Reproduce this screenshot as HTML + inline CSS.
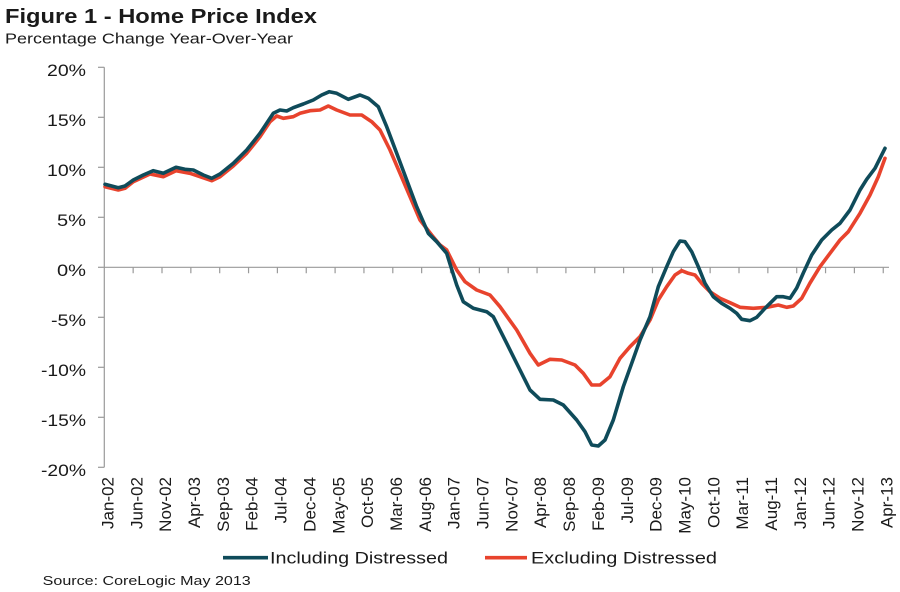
<!DOCTYPE html>
<html>
<head>
<meta charset="utf-8">
<style>
html,body{margin:0;padding:0;background:#fff;}
svg{display:block;}
text{font-family:"Liberation Sans",Arial,sans-serif;fill:#1a1a1a;}
</style>
</head>
<body>
<svg width="900" height="592" viewBox="0 0 900 592" xmlns="http://www.w3.org/2000/svg">
<rect width="900" height="592" fill="#fff"/>
<text x="5" y="23" font-size="20" font-weight="bold" fill="#000" textLength="312" lengthAdjust="spacingAndGlyphs">Figure 1 - Home Price Index</text>
<text x="5" y="43.5" font-size="15" textLength="288" lengthAdjust="spacingAndGlyphs">Percentage Change Year-Over-Year</text>

<g stroke="#9a9a9a" stroke-width="1.2" fill="none">
<line x1="104.3" y1="67.3" x2="104.3" y2="467.3"/>
<line x1="98" y1="67.3" x2="104.3" y2="67.3"/>
<line x1="98" y1="117.3" x2="104.3" y2="117.3"/>
<line x1="98" y1="167.3" x2="104.3" y2="167.3"/>
<line x1="98" y1="217.3" x2="104.3" y2="217.3"/>
<line x1="98" y1="267.3" x2="104.3" y2="267.3"/>
<line x1="98" y1="317.3" x2="104.3" y2="317.3"/>
<line x1="98" y1="367.3" x2="104.3" y2="367.3"/>
<line x1="98" y1="417.3" x2="104.3" y2="417.3"/>
<line x1="98" y1="467.3" x2="104.3" y2="467.3"/>
<line x1="104.3" y1="267.3" x2="889" y2="267.3"/>
<path d="M133.15 267.3v6M162 267.3v6M190.85 267.3v6M219.7 267.3v6M248.55 267.3v6M277.4 267.3v6M306.25 267.3v6M335.1 267.3v6M363.95 267.3v6M392.8 267.3v6M421.65 267.3v6M450.5 267.3v6M479.35 267.3v6M508.2 267.3v6M537.05 267.3v6M565.9 267.3v6M594.75 267.3v6M623.6 267.3v6M652.45 267.3v6M681.3 267.3v6M710.15 267.3v6M739 267.3v6M767.85 267.3v6M796.7 267.3v6M825.55 267.3v6M854.4 267.3v6M883.25 267.3v6"/>
</g>

<g font-size="17" text-anchor="end">
<text x="86" y="76" textLength="39" lengthAdjust="spacingAndGlyphs">20%</text>
<text x="86" y="126" textLength="39" lengthAdjust="spacingAndGlyphs">15%</text>
<text x="86" y="176" textLength="39" lengthAdjust="spacingAndGlyphs">10%</text>
<text x="86" y="226" textLength="29" lengthAdjust="spacingAndGlyphs">5%</text>
<text x="86" y="276" textLength="29" lengthAdjust="spacingAndGlyphs">0%</text>
<text x="86" y="326" textLength="35" lengthAdjust="spacingAndGlyphs">-5%</text>
<text x="86" y="376" textLength="45" lengthAdjust="spacingAndGlyphs">-10%</text>
<text x="86" y="426" textLength="45" lengthAdjust="spacingAndGlyphs">-15%</text>
<text x="86" y="476" textLength="45" lengthAdjust="spacingAndGlyphs">-20%</text>
</g>

<g font-size="17" text-anchor="end">
<text transform="translate(113.5,477) rotate(-90)">Jan-02</text>
<text transform="translate(142.3,477) rotate(-90)">Jun-02</text>
<text transform="translate(171.2,477) rotate(-90)">Nov-02</text>
<text transform="translate(200,477) rotate(-90)">Apr-03</text>
<text transform="translate(228.9,477) rotate(-90)">Sep-03</text>
<text transform="translate(257.7,477) rotate(-90)">Feb-04</text>
<text transform="translate(286.6,477) rotate(-90)">Jul-04</text>
<text transform="translate(315.4,477) rotate(-90)">Dec-04</text>
<text transform="translate(344.3,477) rotate(-90)">May-05</text>
<text transform="translate(373.1,477) rotate(-90)">Oct-05</text>
<text transform="translate(402,477) rotate(-90)">Mar-06</text>
<text transform="translate(430.8,477) rotate(-90)">Aug-06</text>
<text transform="translate(459.7,477) rotate(-90)">Jan-07</text>
<text transform="translate(488.5,477) rotate(-90)">Jun-07</text>
<text transform="translate(517.4,477) rotate(-90)">Nov-07</text>
<text transform="translate(546.2,477) rotate(-90)">Apr-08</text>
<text transform="translate(575.1,477) rotate(-90)">Sep-08</text>
<text transform="translate(603.9,477) rotate(-90)">Feb-09</text>
<text transform="translate(632.8,477) rotate(-90)">Jul-09</text>
<text transform="translate(661.6,477) rotate(-90)">Dec-09</text>
<text transform="translate(690.5,477) rotate(-90)">May-10</text>
<text transform="translate(719.3,477) rotate(-90)">Oct-10</text>
<text transform="translate(748.2,477) rotate(-90)">Mar-11</text>
<text transform="translate(777,477) rotate(-90)">Aug-11</text>
<text transform="translate(805.9,477) rotate(-90)">Jan-12</text>
<text transform="translate(834.7,477) rotate(-90)">Jun-12</text>
<text transform="translate(863.6,477) rotate(-90)">Nov-12</text>
<text transform="translate(892.4,477) rotate(-90)">Apr-13</text>
</g>

<polyline fill="none" stroke="#E8432D" stroke-width="3.6" stroke-linejoin="round" stroke-linecap="round" points="105,186.7 118.3,190 125,188.3 133.3,181.7 150,174 163.3,176.7 176,170.7 190,173.3 200,176.7 211.7,180.7 220,176.7 233.3,166 246.7,153.3 260,136.7 270,121.7 276.7,116 283.3,118.3 293.3,116.7 300,113.3 310,110.7 320,110 328.3,106 336.7,110 350,115 361.7,115 371.7,121.7 380,130 390,150 400,173.3 410,196.7 420,220 431.7,235 440,245 446.7,250 450,256.7 456.7,270 465,281.7 476.7,290 490,295 500,306.7 516.7,330 530,353.3 538.3,365 550,359.3 561.7,360 575,365 583.3,373.3 591.7,385 600,385 610,376.7 620,358.3 630,346.7 640,336.7 650,320 658.3,300 666.7,286.7 675,275 681.7,270.7 688.3,273.3 695,275 701.7,283.3 710,291.7 720,298.3 730,302.7 740,307.3 753.3,308.3 766.7,307.3 778.3,305 786.7,307.3 793.3,306 801.7,298.3 810,283 820,266.7 830,253.3 840,240 848.3,231.7 860,213.3 870,195 878.3,176.7 885,158.3"/>

<polyline fill="none" stroke="#0F4B5A" stroke-width="3.6" stroke-linejoin="round" stroke-linecap="round" points="105,184.3 118.3,187.7 125,186 133.3,180 143.3,175 153.3,170.7 163.3,173.3 176,167.3 185,169.3 193.3,170 203.3,175 211.7,178.3 220,174 233.3,163.3 246.7,150 260,133.3 273.3,113.3 280,110 286.7,111 293.3,107.7 303.3,104 313.3,100 321.7,95 329.3,91.7 336.7,93.3 348.3,99.3 360,95 368.3,98.3 378.3,106.7 386.7,126.7 396.7,153.3 406.7,180 416.7,206.7 428.3,233.3 436.7,241.7 446.7,253.3 450,264 456.7,285 463.3,301.7 473.3,308.3 486.7,311.7 493.3,316.7 506.7,343.3 520,370 530,390 540,399.3 553.3,400 563.3,405 576.7,420 585,431.7 591.7,445 598.3,446 605,440 613.3,420 623.3,386.7 631.7,363.3 640,340 650,316.7 658.3,286.7 666.7,266.7 673.3,251.7 680,241 685,241.7 691.7,251.7 698.3,266.7 705,283.3 713.3,296.7 721.7,303.3 730,308.3 736.7,313.3 741.7,319.3 750,320.7 756.7,317.3 765,308.3 776.7,296.7 783.3,296.7 790,298.3 796.7,288 803.3,273 811.7,255 821.7,240 831.7,230 840,223.3 850,210 860,190 866.7,179.3 875,168.3 878.3,161.7 885,148.3"/>

<line x1="223" y1="557.7" x2="268" y2="557.7" stroke="#0F4B5A" stroke-width="3.6"/>
<text x="270" y="563.3" font-size="17" textLength="178" lengthAdjust="spacingAndGlyphs">Including Distressed</text>
<line x1="485" y1="557.7" x2="527" y2="557.7" stroke="#E8432D" stroke-width="3.6"/>
<text x="531" y="563.3" font-size="17" textLength="186" lengthAdjust="spacingAndGlyphs">Excluding Distressed</text>

<text x="42.7" y="585" font-size="13" textLength="208" lengthAdjust="spacingAndGlyphs">Source: CoreLogic May 2013</text>
</svg>
</body>
</html>
